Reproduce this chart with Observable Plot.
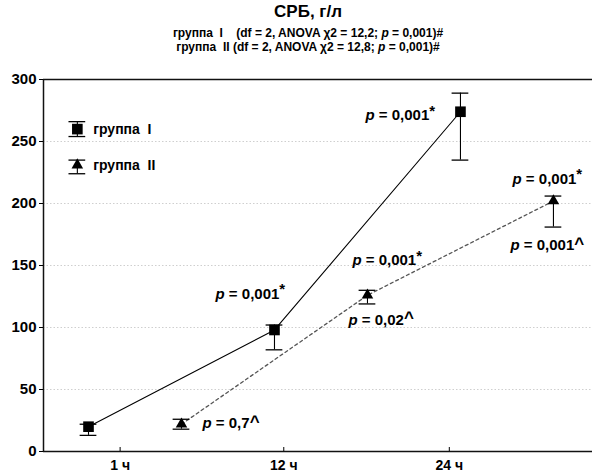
<!DOCTYPE html>
<html><head><meta charset="utf-8">
<script src="https://cdn.jsdelivr.net/npm/d3@7"></script>
<script src="https://cdn.jsdelivr.net/npm/@observablehq/plot@0.6"></script>
<style>
body{margin:0;background:#fff;font-family:"Liberation Sans",Arial,sans-serif;color:#000}
#hdr{position:relative;width:592px;height:60px}
#hdr div{position:absolute;left:0;width:592px;text-align:center;font-weight:bold;padding-left:24px;box-sizing:border-box;white-space:pre}
#hdr .t{top:2px;font-size:17px;line-height:20px}
#hdr .s1{top:26px;font-size:12px;line-height:14px}
#hdr .s2{top:40px;font-size:12px;line-height:14px}
</style>
</head><body>
<div id="hdr">
<div class="t">СРБ, г/л</div>
<div class="s1">группа  I    (df = 2, ANOVA χ2 = 12,2; <i>p</i> = 0,001)#</div>
<div class="s2">группа  II (df = 2, ANOVA χ2 = 12,8; <i>p</i> = 0,001)#</div>
</div>
<div id="chart"></div>
<script>
const timeLabels = ["1 ч", "12 ч", "24 ч"];
const timeTickPos = [1.17, 2.05, 2.94];
const groups = ["группа  I", "группа  II"];
const g1Mean = [20, 98, 274];
const g1Low = [13, 82, 235];
const g1High = [22, 102, 289];
const g2Mean = [22, 126, 202];
const g2Low = [18, 119, 181];
const g2High = [26, 130, 206];
const yTicks = [0, 50, 100, 150, 200, 250, 300];
const gridVals = [50, 100, 150, 200, 250];
const annLabels = ["p = 0,001*", "p = 0,001*", "p = 0,001*", "p = 0,02^", "p = 0,001*", "p = 0,001^", "p = 0,7^"];
const annX = [1.683, 2.489, 2.419, 2.398, 3.28, 3.269, 1.613];
const annY = [127, 271, 154, 106, 220, 166, 22.6];

const offsets = [0, 0.5];
const series = [[g1Mean, g1Low, g1High], [g2Mean, g2Low, g2High]];
const rows = [];
series.forEach(([m, l, h], gi) => m.forEach((v, i) => rows.push({gi, x: i + 1 + offsets[gi], mean: v, low: l[i], high: h[i]})));
const r1 = rows.filter(d => d.gi === 0), r2 = rows.filter(d => d.gi === 1);
const legend = groups.map((g, i) => ({gi: i, label: g.replace(/ /g, "\u00a0"), x: 0.94, mean: [260, 231][i], low: [254, 224][i], high: [266, 235][i]}));
const allErr = rows.concat(legend);
const cap = 0.045;
const xDomain = [0.758, 3.71];
const ann = annLabels.map((t, i) => ({t, x: annX[i], y: annY[i]}));
const tickMap = new Map(timeTickPos.map((p, i) => [p, timeLabels[i]]));

const chart = Plot.plot({
  width: 592, height: 413,
  marginTop: 19, marginBottom: 22, marginLeft: 43, marginRight: 0,
  style: {fontFamily: "'Liberation Sans', Arial, sans-serif", color: "black", background: "white"},
  x: {domain: xDomain},
  y: {domain: [0, 300]},
  marks: [
    Plot.ruleY(gridVals, {stroke: "#cfcfcf", strokeDasharray: "1.5,2"}),
    Plot.line(r1, {x: "x", y: "mean", stroke: "black", strokeWidth: 1.1}),
    Plot.line(r2, {x: "x", y: "mean", stroke: "#555", strokeWidth: 1.3, strokeDasharray: "3,3"}),
    Plot.ruleX(allErr, {x: "x", y1: "low", y2: "high", stroke: "black", strokeWidth: 1.1}),
    Plot.ruleY(allErr, {y: "low", x1: d => d.x - cap, x2: d => d.x + cap, stroke: "black", strokeWidth: 1.3}),
    Plot.ruleY(allErr, {y: "high", x1: d => d.x - cap, x2: d => d.x + cap, stroke: "black", strokeWidth: 1.3}),
    Plot.dot(r1.concat(legend.filter(d => d.gi === 0)), {x: "x", y: "mean", symbol: "square", r: 6, fill: "black", stroke: "none"}),
    Plot.dot(r2.concat(legend.filter(d => d.gi === 1)), {x: "x", y: "mean", symbol: "triangle", r: 4.3, fill: "black", stroke: "none"}),
    Plot.text(legend, {x: d => d.x + 0.085, y: "mean", text: "label", textAnchor: "start", fontSize: 14, fontWeight: "bold"}),
    Plot.text(ann, {x: "x", y: "y", text: "t", textAnchor: "start", fontSize: 15, fontWeight: "bold"}),
    Plot.ruleX([xDomain[0]], {stroke: "#111", strokeWidth: 1.5}),
    Plot.ruleY([0, 300], {stroke: "#111", strokeWidth: 1.5}),
    Plot.axisY({ticks: yTicks, tickSize: 4, tickPadding: 3, fontSize: 15, fontWeight: "bold", label: null}),
    Plot.axisX({ticks: timeTickPos, tickSize: -4, tickPadding: 13, tickFormat: d => tickMap.get(d), fontSize: 14, fontWeight: "bold", label: null})
  ]
});
document.getElementById("chart").appendChild(chart);

// rich formatting for annotations: italic p, raised suffix
d3.select(chart).selectAll("text").each(function() {
  const s = this.textContent;
  const m = /^p = ([0-9,]+)([*^])$/.exec(s);
  if (!m) return;
  const el = d3.select(this);
  el.text(null);
  el.append("tspan").attr("font-style", "italic").text("p");
  el.append("tspan").text("\u00a0=\u00a0" + m[1]);
  if (m[2] === "*") el.append("tspan").attr("dy", "-0.3em").text("*");
  else el.append("tspan").attr("dy", "-0.1em").attr("font-size", 17).text("^");
});
</script>
</body></html>
